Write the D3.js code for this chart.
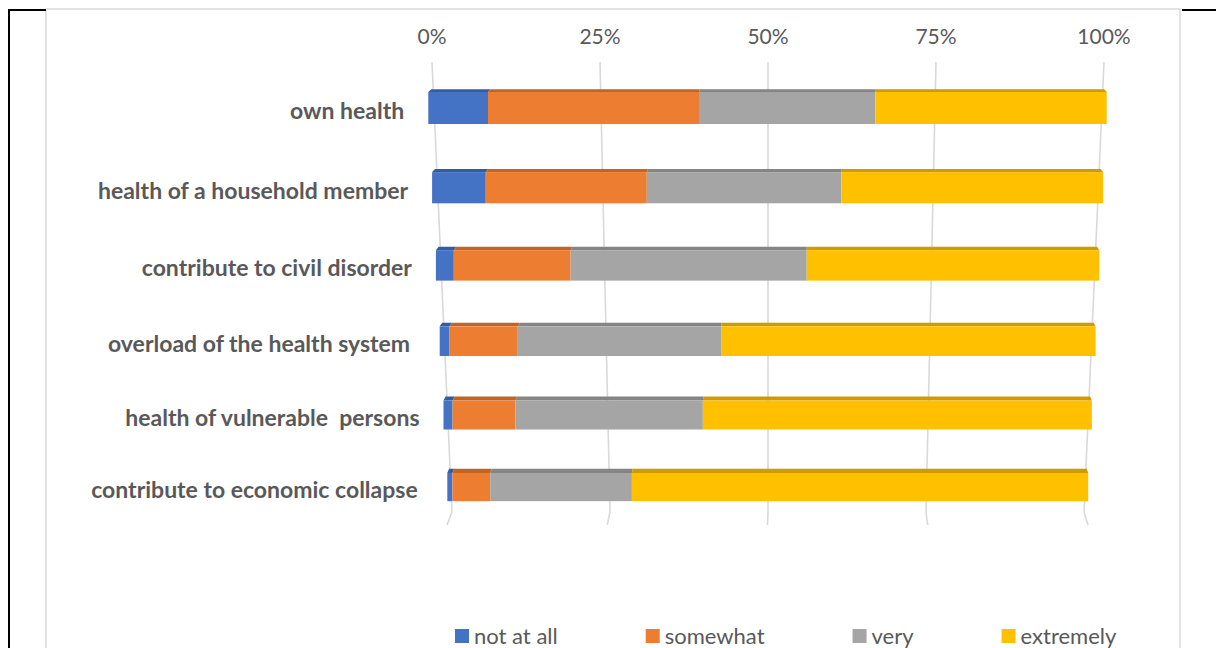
<!DOCTYPE html>
<html>
<head>
<meta charset="utf-8">
<script src="https://cdn.jsdelivr.net/npm/d3@7"></script>
<style>
  html, body { margin: 0; padding: 0; background: #fff; }
  svg { display: block; }
  text { font-family: Lato, "Open Sans", sans-serif; fill: #595959; }
</style>
</head>
<body>
<svg id="chart" width="1216" height="648"></svg>
<script>
// Concern about each consequence, share of answers per level
const categories = [
  "own health",
  "health of a household member",
  "contribute to civil disorder",
  "overload of the health system ",
  "health of vulnerable  persons",
  "contribute to economic collapse "
];
const seriesNames = ["not at all", "somewhat", "very", "extremely"];
const notAtAll  = [8.8, 8.0, 2.7, 1.5, 1.4, 0.8];
const somewhat  = [31.1, 24.0, 17.6, 10.4, 9.7, 5.9];
const very      = [26.0, 29.0, 35.6, 31.0, 28.9, 22.1];
const extremely = [34.1, 39.0, 44.1, 57.1, 60.0, 71.2];
const tickValues = [0, 0.25, 0.5, 0.75, 1];
const tickLabels = ["0%", "25%", "50%", "75%", "100%"];
const colors = ["#4472C4", "#ED7D31", "#A5A5A5", "#FFC000"];

const svg = d3.select("#chart");

// Outer frame and chart area border
svg.append("rect").attr("x", 46).attr("y", 9).attr("width", 1134).attr("height", 660)
  .attr("fill", "#fff").attr("stroke", "#d9d9d9").attr("stroke-width", 1.5);
svg.append("path").attr("d", "M9,660 V10 H46").attr("fill", "none").attr("stroke", "#000").attr("stroke-width", 2);
svg.append("path").attr("d", "M1182,10 H1216").attr("fill", "none").attr("stroke", "#000").attr("stroke-width", 2);

// Back wall: the percentage scale at the top and the bottom of the wall, plus the floor edge
const wallTopY = 62, wallBotY = 512, floorY = 525;
const xTop = d3.scaleLinear().domain([0, 1]).range([432, 1104]);
const xBot = d3.scaleLinear().domain([0, 1]).range([452, 1084]);
const xFloor = d3.scaleLinear().domain([0, 1]).range([447, 1088]);
const wallX = (v, y) => xTop(v) + (xBot(v) - xTop(v)) * (y - wallTopY) / (wallBotY - wallTopY);

svg.append("g").selectAll("path").data(tickValues).join("path")
  .attr("d", v => `M${xTop(v)},${wallTopY} L${xBot(v)},${wallBotY} L${xFloor(v)},${floorY}`)
  .attr("fill", "none").attr("stroke", "#d9d9d9").attr("stroke-width", 1.6);

svg.append("g").selectAll("text").data(tickValues).join("text")
  .attr("x", v => xTop(v)).attr("y", 44)
  .attr("text-anchor", "middle").attr("font-size", 21)
  .text((v, i) => tickLabels[i]);

// Rows recede slightly: spacing, thickness and width shrink with depth
const rows = categories.map((c, i) => ({
  name: c,
  values: [notAtAll[i], somewhat[i], very[i], extremely[i]]
}));
const shrink = 0.975;
const rowBottom = i => 124 + 79.3 * (1 - Math.pow(shrink, i)) / (1 - shrink);
const rowHeight = i => 32 * Math.pow(shrink, i);
const topDepth = i => 2.8 + 0.3 * i;
const rowScale = i => d3.scaleLinear().domain([0, 1]).range([428.3 + 3.8 * i, 1106.7 - 3.7 * i]);

const stack = d3.stack().keys([0, 1, 2, 3]).value((d, k) => d.values[k]).offset(d3.stackOffsetExpand);
const stacked = stack(rows);

const barsG = svg.append("g");
rows.forEach((r, i) => {
  const xs = rowScale(i);
  const yb = rowBottom(i), h = rowHeight(i), yt = yb - h, th = topDepth(i);
  const backX = v => xs(v) + (wallX(v, yt) - xs(v)) * 0.6;
  stacked.forEach((s, k) => {
    const [a, b] = s[i];
    // top face
    barsG.append("path")
      .attr("d", `M${xs(a)},${yt} L${xs(b)},${yt} L${backX(b)},${yt - th} L${backX(a)},${yt - th} Z`)
      .attr("fill", d3.color(colors[k]).darker(0.6));
    // front face
    barsG.append("rect")
      .attr("x", xs(a)).attr("y", yt)
      .attr("width", Math.max(0, xs(b) - xs(a))).attr("height", h)
      .attr("fill", colors[k]);
  });
  svg.append("text")
    .attr("x", xs(0) - 24).attr("y", yt + h / 2 + 11)
    .attr("text-anchor", "end").attr("font-size", 23).attr("font-weight", "bold")
    .style("white-space", "pre")
    .text(r.name);
});

// Legend
const legend = svg.append("g");
let lx = 455;
seriesNames.forEach((n, k) => {
  legend.append("rect").attr("x", lx).attr("y", 629).attr("width", 14).attr("height", 14).attr("fill", colors[k]);
  const t = legend.append("text").attr("x", lx + 19).attr("y", 644).attr("font-size", 22).text(n);
  lx += 19 + t.node().getComputedTextLength() + 88;
});
</script>
</body>
</html>
